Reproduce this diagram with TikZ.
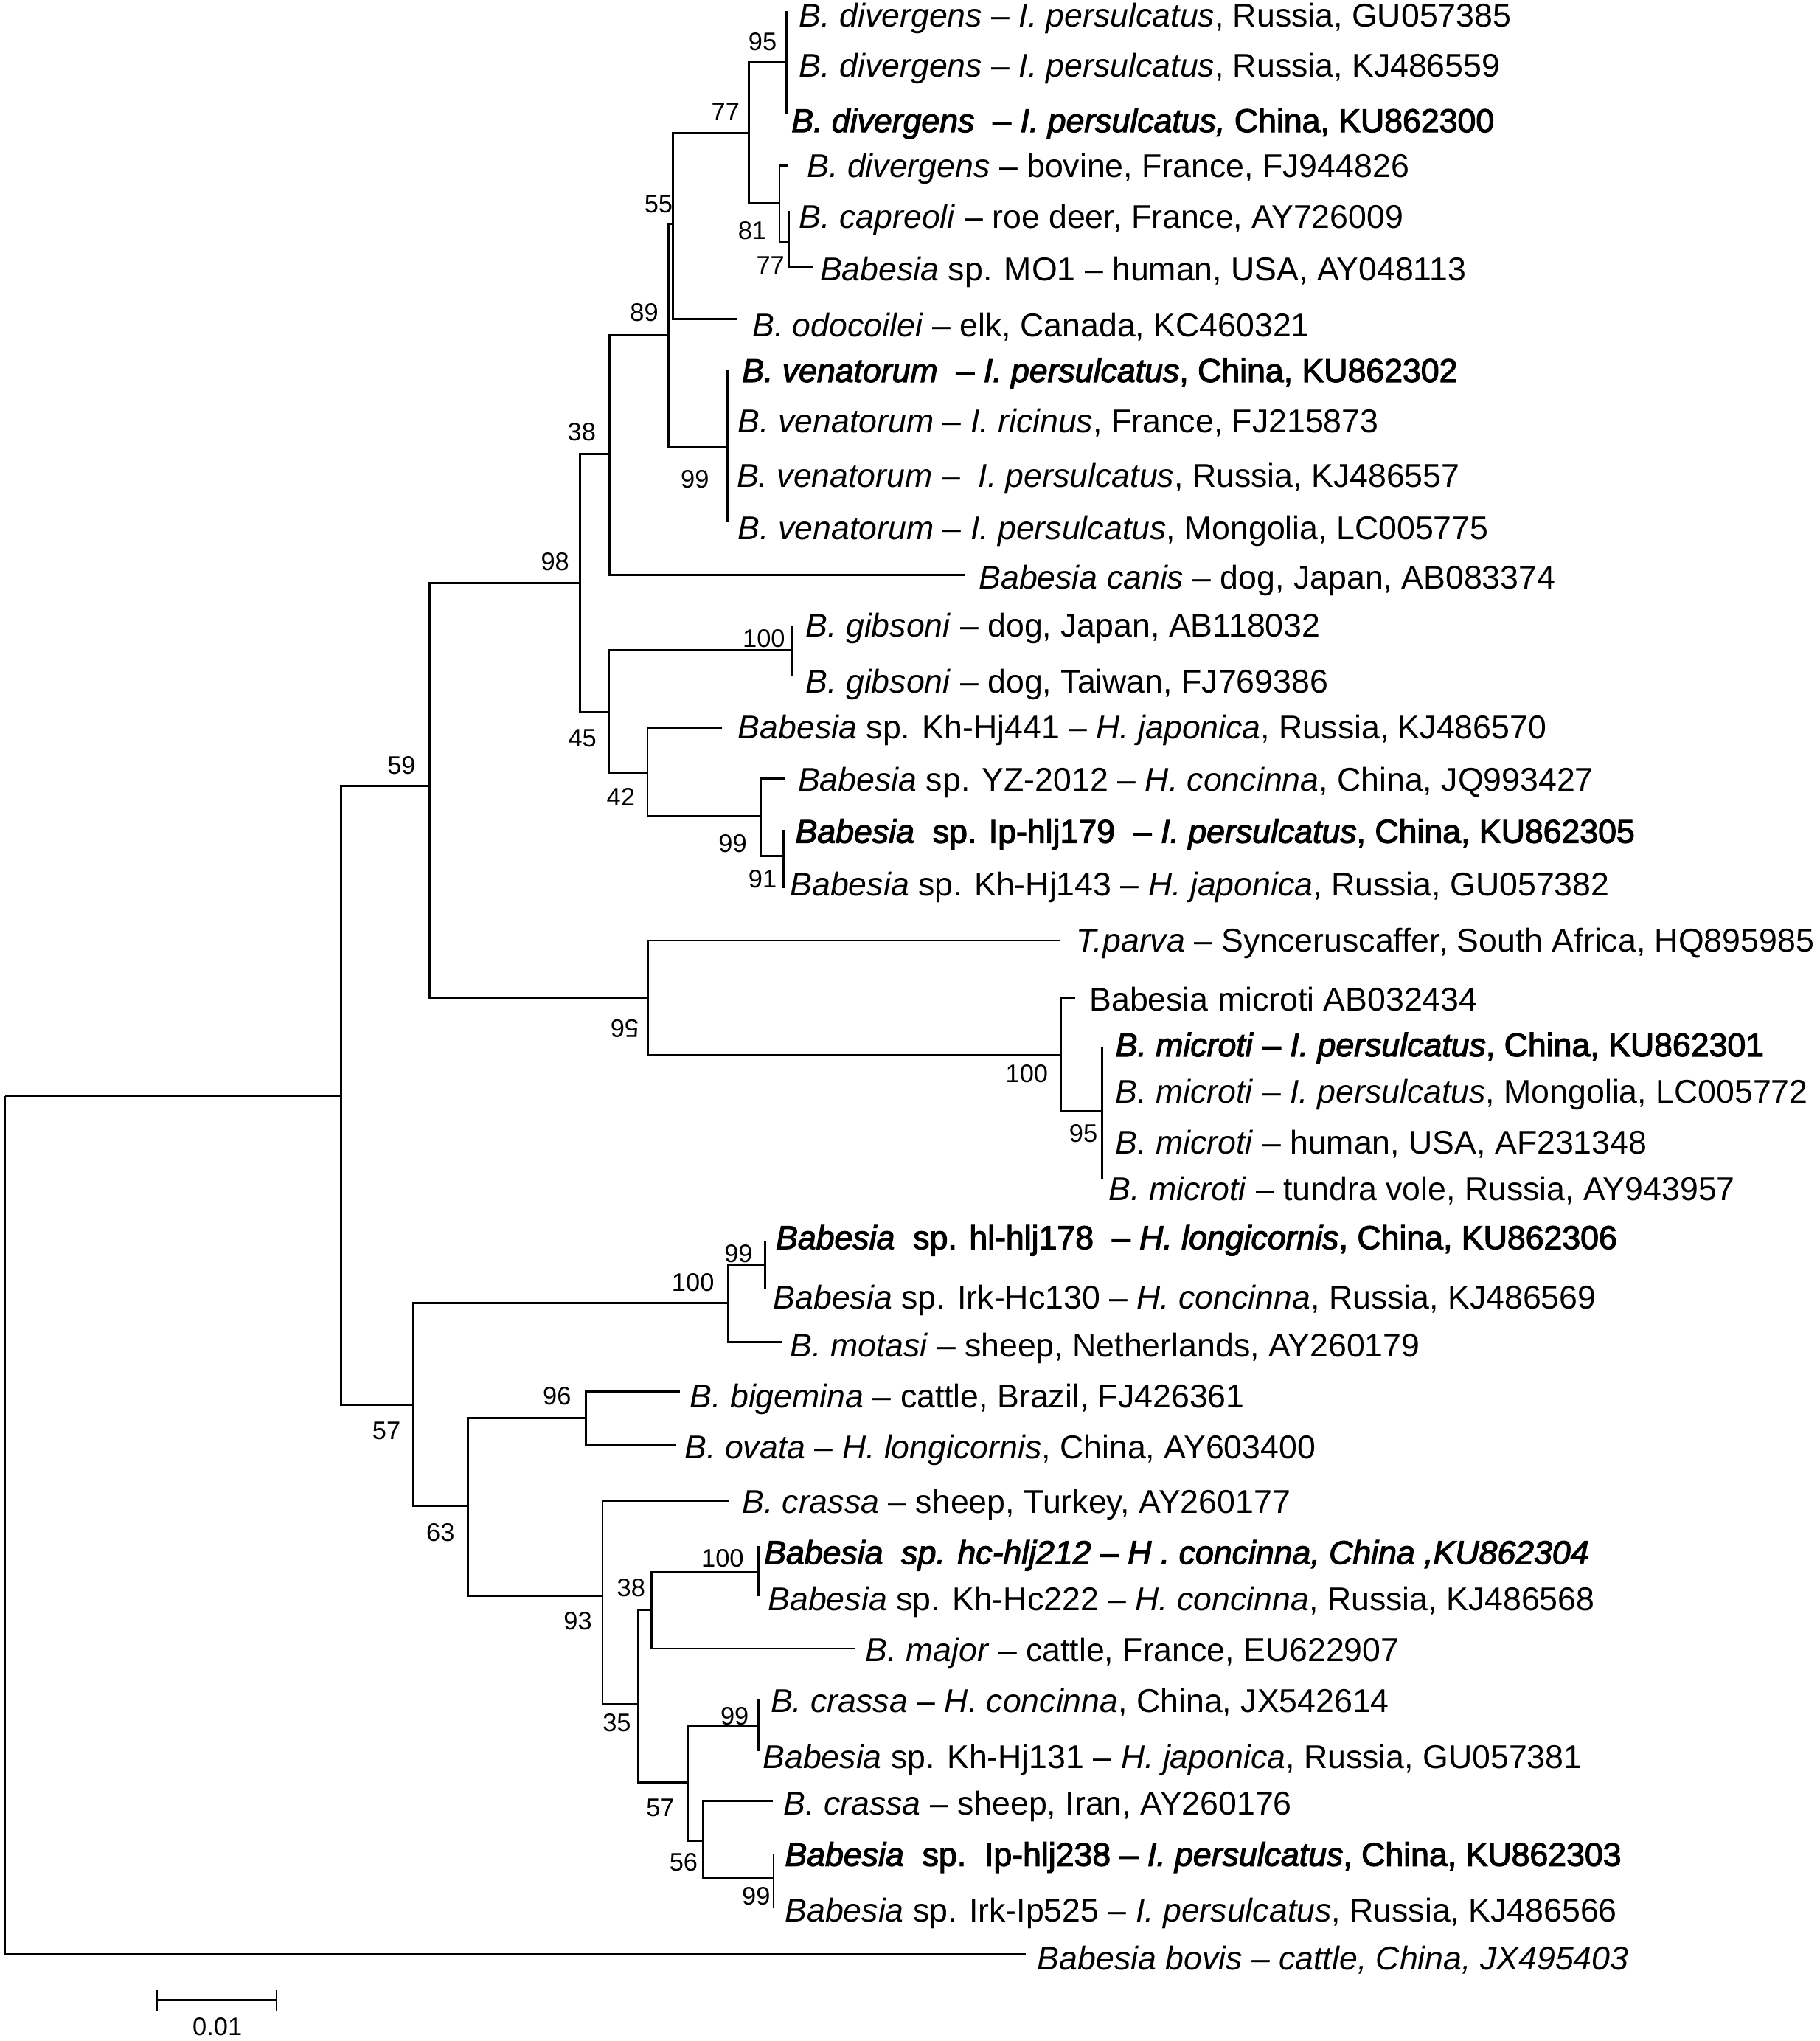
\documentclass[tikz,border=0pt]{standalone}
\usepackage{fontspec}
\setmainfont{Liberation Sans}
\newfontfamily\fb{Liberation Sans}[FakeBold=2.6]
\newcommand{\leaffont}{\fontsize{25.3}{30}\selectfont}
\newcommand{\bsfont}{\fontsize{19.5}{23}\selectfont}
\tikzset{
  branch/.style={line width=1.6pt},
  leaf/.style={anchor=base west, inner sep=0pt, font=\leaffont},
  boot/.style={inner sep=0pt, font=\bsfont},
}
\begin{document}
\begin{tikzpicture}[x=1pt,y=-1pt]
\useasboundingbox (0,0) rectangle (1398,1568);
\fill[white] (0,0) rectangle (1398,1568);
% internal nodes
\coordinate (R0) at (4,842);
\coordinate (A) at (262,842);
\coordinate (B) at (330,604);
\coordinate (C) at (445.8,448);
\coordinate (D) at (468.4,349);
\coordinate (E) at (513.5,257.7);
\coordinate (F) at (517,172);
\coordinate (G) at (575.4,102);
\coordinate (H) at (604.5,48);
\coordinate (I) at (599,156);
\coordinate (J) at (606,186);
\coordinate (K) at (559,343);
\coordinate (L) at (468,547);
\coordinate (M) at (609,499.6);
\coordinate (N) at (497.5,593.7);
\coordinate (O) at (584.5,626.8);
\coordinate (P) at (601.9,657.4);
\coordinate (Q) at (497.6,767);
\coordinate (Rn) at (815,810.3);
\coordinate (S) at (847,853.4);
\coordinate (T) at (317.8,1079.5);
\coordinate (U) at (559.8,1001);
\coordinate (V) at (588,972);
\coordinate (W) at (359.4,1157);
\coordinate (X) at (450,1089.5);
\coordinate (Y) at (463,1226);
\coordinate (Z) at (490.2,1309);
\coordinate (AA) at (500.5,1237);
\coordinate (AB) at (582.6,1207.6);
\coordinate (AC) at (528.5,1369.5);
\coordinate (AD) at (582.6,1325.6);
\coordinate (AE) at (540.3,1414);
\coordinate (AF) at (594.4,1442.6);
% leaf tips
\coordinate (l1) at (604.5,8.5);
\coordinate (l2) at (606,48);
\coordinate (l3) at (604.5,87);
\coordinate (l4) at (606,127);
\coordinate (l5) at (606,162);
\coordinate (l6) at (625,205);
\coordinate (l7) at (566,245);
\coordinate (l8) at (559,284);
\coordinate (l9) at (559,322);
\coordinate (l10) at (559,362);
\coordinate (l11) at (559,401.4);
\coordinate (l12) at (742,441.7);
\coordinate (l13) at (609,481);
\coordinate (l14) at (609,519);
\coordinate (l15) at (555,559);
\coordinate (l16) at (603.3,598);
\coordinate (l17) at (601.9,637.5);
\coordinate (l18) at (601.9,682);
\coordinate (l19) at (815,722.5);
\coordinate (l20) at (826,767);
\coordinate (l21) at (847,804.3);
\coordinate (l22) at (847,840);
\coordinate (l23) at (847,874);
\coordinate (l24) at (847,905.7);
\coordinate (l25) at (588,953);
\coordinate (l26) at (588,990.7);
\coordinate (l27) at (600.8,1031);
\coordinate (l28) at (522.7,1069);
\coordinate (l29) at (519.5,1109.7);
\coordinate (l30) at (559.8,1153);
\coordinate (l31) at (582.6,1188);
\coordinate (l32) at (582.6,1226.2);
\coordinate (l33) at (657.4,1266.5);
\coordinate (l34) at (582.6,1305.6);
\coordinate (l35) at (582.6,1345);
\coordinate (l36) at (594,1383.6);
\coordinate (l37) at (594.4,1424.3);
\coordinate (l38) at (594.4,1466);
\coordinate (l39) at (788,1501.3);
% branches
\foreach \p/\c in {R0/A,R0/l39,A/B,A/T,B/C,B/Q,C/D,C/L,D/E,D/l12,E/F,E/K,F/G,F/l7,
  G/H,G/I,H/l1,H/l2,H/l3,I/l4,I/J,J/l5,J/l6,K/l8,K/l9,K/l10,K/l11,
  L/M,L/N,M/l13,M/l14,N/l15,N/O,O/l16,O/P,P/l17,P/l18,
  Q/l19,Q/Rn,Rn/l20,Rn/S,S/l21,S/l22,S/l23,S/l24,
  T/U,T/W,U/V,U/l27,V/l25,V/l26,W/X,W/Y,X/l28,X/l29,Y/l30,Y/Z,
  Z/AA,Z/AC,AA/AB,AA/l33,AB/l31,AB/l32,AC/AD,AC/AE,AD/l34,AD/l35,
  AE/l36,AE/AF,AF/l37,AF/l38}
  \draw[branch] (\p) |- (\c);
% leaf labels
\node[leaf] (t1) at (614,20.5) {\textit{B. divergens} – \textit{I. persulcatus}, Russia, GU057385};
\node[leaf] (t2) at (614,59.5) {\textit{B. divergens} – \textit{I. persulcatus}, Russia, KJ486559};
\node[leaf] (t3) at (608,101.5) {\fb\textit{B. divergens}\ \ – \textit{I. persulcatus,} China, KU862300};
\node[leaf] (t4) at (620,136.5) {\textit{B. divergens} – bovine, France, FJ944826};
\node[leaf] (t5) at (614,175.5) {\textit{B. capreoli} – roe deer, France, AY726009};
\node[leaf] (t6) at (630,215.5) {\textit{Babesia} sp. MO1 – human, USA, AY048113};
\node[leaf] (t7) at (578,258.5) {\textit{B. odocoilei} – elk, Canada, KC460321};
\node[leaf] (t8) at (570,293.5) {\fb\textit{B. venatorum}\ \ – \textit{I. persulcatus}, China, KU862302};
\node[leaf] (t9) at (567,332.5) {\textit{B. venatorum} – \textit{I. ricinus}, France, FJ215873};
\node[leaf] (t10) at (566,374.5) {\textit{B. venatorum} –\ \ \textit{I. persulcatus}, Russia, KJ486557};
\node[leaf] (t11) at (567,414.5) {\textit{B. venatorum} – \textit{I. persulcatus}, Mongolia, LC005775};
\node[leaf] (t12) at (752,452.5) {\textit{Babesia canis} – dog, Japan, AB083374};
\node[leaf] (t13) at (619,489.5) {\textit{B. gibsoni} – dog, Japan, AB118032};
\node[leaf] (t14) at (619,532.5) {\textit{B. gibsoni} – dog, Taiwan, FJ769386};
\node[leaf] (t15) at (567,567.5) {\textit{Babesia} sp. Kh-Hj441 – \textit{H. japonica}, Russia, KJ486570};
\node[leaf] (t16) at (613,607.5) {\textit{Babesia} sp. YZ-2012 – \textit{H. concinna}, China, JQ993427};
\node[leaf] (t17) at (611,647.5) {\fb\textit{Babesia}\ \ sp. Ip-hlj179\ \ – \textit{I. persulcatus}, China, KU862305};
\node[leaf] (t18) at (607,688.5) {\textit{Babesia} sp. Kh-Hj143 – \textit{H. japonica}, Russia, GU057382};
\node[leaf] (t19) at (827,731.5) {\textit{T.parva} – Synceruscaffer, South Africa, HQ895985};
\node[leaf] (t20) at (837,776.5) {Babesia microti AB032434};
\node[leaf] (t21) at (857,811.5) {\fb\textit{B. microti} – \textit{I. persulcatus}, China, KU862301};
\node[leaf] (t22) at (857,847.5) {\textit{B. microti} – \textit{I. persulcatus}, Mongolia, LC005772};
\node[leaf] (t23) at (857,886.5) {\textit{B. microti} – human, USA, AF231348};
\node[leaf] (t24) at (852,922.5) {\textit{B. microti} – tundra vole, Russia, AY943957};
\node[leaf] (t25) at (596,959.5) {\fb\textit{Babesia}\ \ sp. hl-hlj178\ \ – \textit{H. longicornis}, China, KU862306};
\node[leaf] (t26) at (594,1005.5) {\textit{Babesia} sp. Irk-Hc130 – \textit{H. concinna}, Russia, KJ486569};
\node[leaf] (t27) at (607,1042.5) {\textit{B. motasi} – sheep, Netherlands, AY260179};
\node[leaf] (t28) at (530,1081.5) {\textit{B. bigemina} – cattle, Brazil, FJ426361};
\node[leaf] (t29) at (526,1120.5) {\textit{B. ovata} – \textit{H. longicornis}, China, AY603400};
\node[leaf] (t30) at (570,1162.5) {\textit{B. crassa} – sheep, Turkey, AY260177};
\node[leaf] (t31) at (587,1201.5) {\fb\itshape Babesia\ \ sp. hc-hlj212 – H . concinna, China ,KU862304};
\node[leaf] (t32) at (590,1237.5) {\textit{Babesia} sp. Kh-Hc222 – \textit{H. concinna}, Russia, KJ486568};
\node[leaf] (t33) at (665,1276.5) {\textit{B. major} – cattle, France, EU622907};
\node[leaf] (t34) at (592,1315.5) {\textit{B. crassa} – \textit{H. concinna}, China, JX542614};
\node[leaf] (t35) at (586,1358.5) {\textit{Babesia} sp. Kh-Hj131 – \textit{H. japonica}, Russia, GU057381};
\node[leaf] (t36) at (602,1394.5) {\textit{B. crassa} – sheep, Iran, AY260176};
\node[leaf] (t37) at (603,1433.5) {\fb\textit{Babesia}\ \ sp.\ \ Ip-hlj238 – \textit{I. persulcatus}, China, KU862303};
\node[leaf] (t38) at (603,1476.5) {\textit{Babesia} sp. Irk-Ip525 – \textit{I. persulcatus}, Russia, KJ486566};
\node[leaf] (t39) at (797,1513.5) {\itshape Babesia bovis – cattle, China, JX495403};
% bootstrap values
\node[boot] (b1) at (586,32) {95};
\node[boot] (b2) at (557.5,86) {77};
\node[boot] (b3) at (506,157) {55};
\node[boot] (b4) at (578,177) {81};
\node[boot] (b5) at (592,204) {77};
\node[boot] (b6) at (495,240) {89};
\node[boot] (b7) at (447,332) {38};
\node[boot] (b8) at (534,368) {99};
\node[boot] (b9) at (426.5,431.5) {98};
\node[boot] (b10) at (587,490.5) {100};
\node[boot] (b11) at (447.5,567) {45};
\node[boot] (b12) at (308.5,588) {59};
\node[boot] (b13) at (477,612.5) {42};
\node[boot] (b14) at (563,648) {99};
\node[boot] (b15) at (586,675) {91};
\node[boot,rotate=180] (b16) at (480,790) {56};
\node[boot] (b17) at (789,825) {100};
\node[boot] (b18) at (832.5,870.5) {95};
\node[boot] (b19) at (567.5,963) {99};
\node[boot] (b20) at (532.5,985) {100};
\node[boot] (b21) at (428,1072.5) {96};
\node[boot] (b22) at (297,1099.5) {57};
\node[boot] (b23) at (338.5,1177.5) {63};
\node[boot] (b24) at (555.3,1197) {100};
\node[boot] (b25) at (485,1220) {38};
\node[boot] (b26) at (444,1245.5) {93};
\node[boot] (b27) at (564.5,1318.5) {99};
\node[boot] (b28) at (474,1323.5) {35};
\node[boot] (b29) at (507.5,1389) {57};
\node[boot] (b30) at (525.3,1430.5) {56};
\node[boot] (b31) at (581,1456.5) {99};
% scale bar
\coordinate (sb1) at (120.5,1536.7);
\coordinate (sb2) at (212.5,1536.7);
\coordinate (sb1t) at (120.5,1529);
\coordinate (sb1b) at (120.5,1544.5);
\coordinate (sb2t) at (212.5,1529);
\coordinate (sb2b) at (212.5,1544.5);
\draw[branch] (sb1) -- (sb2);
\draw[line width=1.2pt] (sb1t) -- (sb1b);
\draw[line width=1.2pt] (sb2t) -- (sb2b);
\node[boot] (sbl) at (167,1557) {0.01};
\end{tikzpicture}
\end{document}
